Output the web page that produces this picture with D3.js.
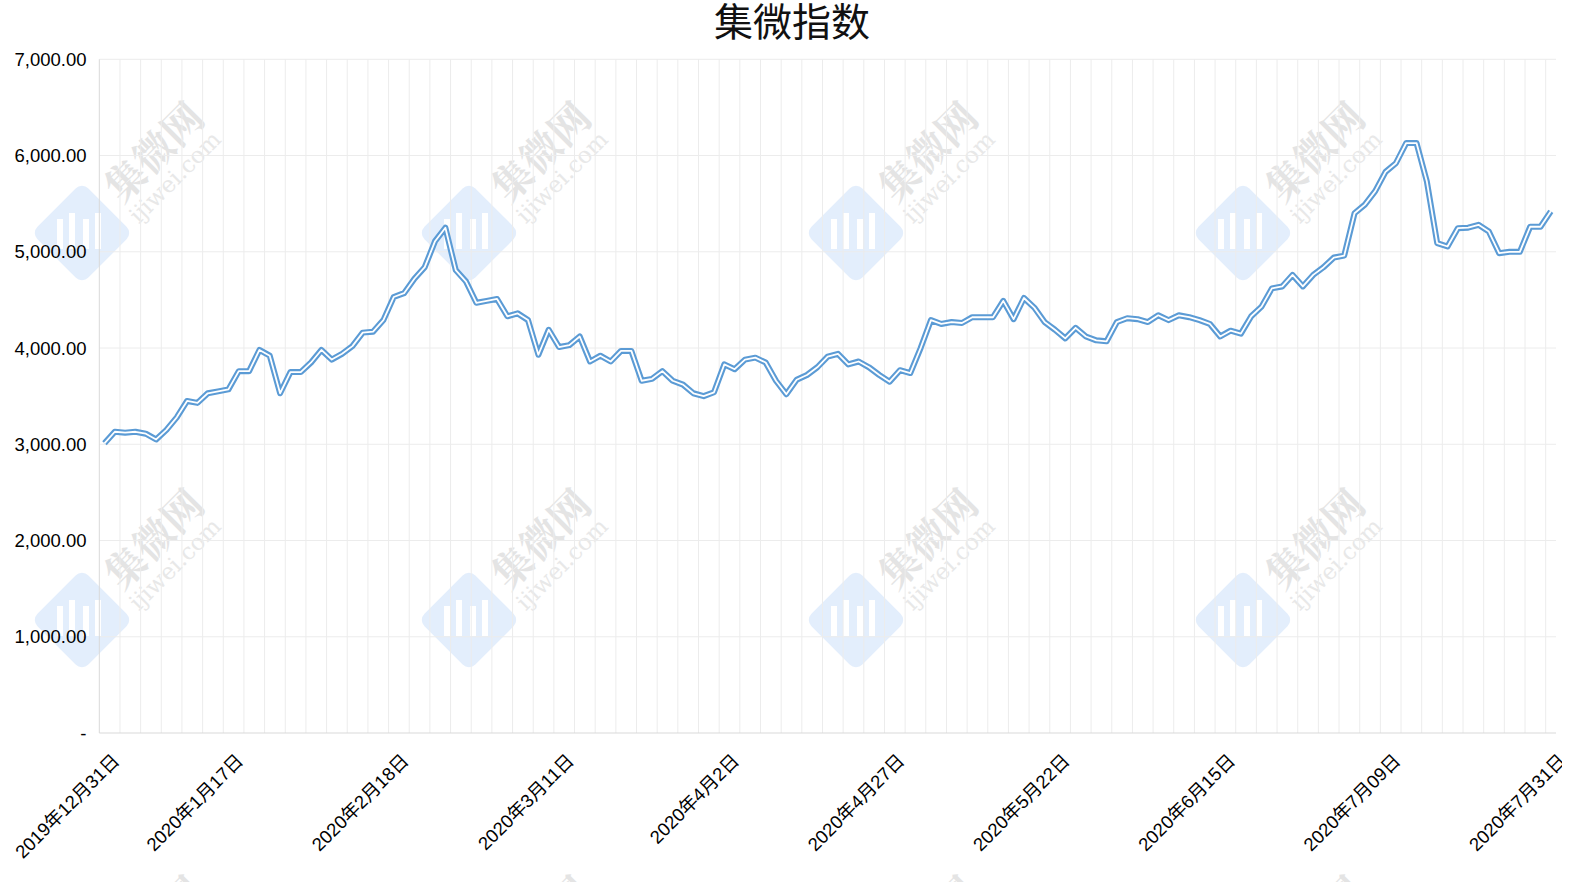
<!DOCTYPE html>
<html><head><meta charset="utf-8">
<script src="https://cdn.jsdelivr.net/npm/d3@7"></script>
<style>
html,body{margin:0;padding:0;background:#fff;}
svg{display:block;}
</style></head>
<body>
<script>
const title = "集微指数";
const dates = [
"2019-12-31",
"2020-01-02","2020-01-03","2020-01-06","2020-01-07","2020-01-08","2020-01-09","2020-01-10","2020-01-13","2020-01-14","2020-01-15","2020-01-16","2020-01-17","2020-01-20","2020-01-21","2020-01-22","2020-01-23",
"2020-02-03","2020-02-04","2020-02-05","2020-02-06","2020-02-07","2020-02-10","2020-02-11","2020-02-12","2020-02-13","2020-02-14","2020-02-17","2020-02-18","2020-02-19","2020-02-20","2020-02-21","2020-02-24","2020-02-25","2020-02-26","2020-02-27","2020-02-28",
"2020-03-02","2020-03-03","2020-03-04","2020-03-05","2020-03-06","2020-03-09","2020-03-10","2020-03-11","2020-03-12","2020-03-13","2020-03-16","2020-03-17","2020-03-18","2020-03-19","2020-03-20","2020-03-23","2020-03-24","2020-03-25","2020-03-26","2020-03-27","2020-03-30","2020-03-31",
"2020-04-01","2020-04-02","2020-04-03","2020-04-07","2020-04-08","2020-04-09","2020-04-10","2020-04-13","2020-04-14","2020-04-15","2020-04-16","2020-04-17","2020-04-20","2020-04-21","2020-04-22","2020-04-23","2020-04-24","2020-04-27","2020-04-28","2020-04-29","2020-04-30",
"2020-05-06","2020-05-07","2020-05-08","2020-05-11","2020-05-12","2020-05-13","2020-05-14","2020-05-15","2020-05-18","2020-05-19","2020-05-20","2020-05-21","2020-05-22","2020-05-25","2020-05-26","2020-05-27","2020-05-28","2020-05-29",
"2020-06-01","2020-06-02","2020-06-03","2020-06-04","2020-06-05","2020-06-08","2020-06-09","2020-06-10","2020-06-11","2020-06-12","2020-06-15","2020-06-16","2020-06-17","2020-06-18","2020-06-19","2020-06-22","2020-06-23","2020-06-24","2020-06-29","2020-06-30",
"2020-07-01","2020-07-02","2020-07-03","2020-07-06","2020-07-07","2020-07-08","2020-07-09","2020-07-10","2020-07-13","2020-07-14","2020-07-15","2020-07-16","2020-07-17","2020-07-20","2020-07-21","2020-07-22","2020-07-23","2020-07-24","2020-07-27","2020-07-28","2020-07-29","2020-07-30","2020-07-31"
];
const values = [
3010,3130,3120,3130,3110,3050,3150,3280,3450,3430,3530,3550,3570,3760,3760,3980,3920,
3530,3750,3750,3850,3980,3880,3940,4020,4160,4170,4290,4530,4570,4720,4840,5110,5250,4810,4690,4470,
4490,4510,4330,4360,4290,3930,4190,4010,4030,4120,3860,3920,3860,3970,3970,3660,3680,3760,3660,3620,3530,3500,
3540,3830,3780,3880,3900,3850,3660,3520,3670,3720,3800,3910,3940,3830,3860,3800,3720,3650,3770,3740,4000,
4290,4250,4270,4260,4320,4320,4320,4490,4300,4520,4420,4270,4190,4100,4210,4120,4080,4070,
4270,4310,4300,4270,4340,4290,4340,4320,4290,4250,4120,4180,4150,4330,4430,4620,4640,4760,4640,4760,
4840,4940,4960,5400,5490,5630,5830,5920,6130,6130,5730,5090,5055,5245,5250,5280,5210,4985,5000,5000,5260,5260,5420
];
const tickDates = ["2019-12-31","2020-01-17","2020-02-18","2020-03-11","2020-04-02","2020-04-27","2020-05-22","2020-06-15","2020-07-09","2020-07-31"];
const tickTexts = ["2019年12月31日","2020年1月17日","2020年2月18日","2020年3月11日","2020年4月2日","2020年4月27日","2020年5月22日","2020年6月15日","2020年7月09日","2020年7月31日"];
const yTicks = [0,1000,2000,3000,4000,5000,6000,7000];

(function(){
const W = 1580, H = 882;
const pL = 99.3, pR = 1556, pT = 59.3, pB = 733;
const svg = d3.select("body").append("svg").attr("width", W).attr("height", H);
const defs = svg.append("defs");
defs.append("clipPath").attr("id","pageclip").append("rect").attr("x",0).attr("y",0).attr("width",1562).attr("height",H);

const x = d3.scaleBand().domain(dates).range([pL, pR]).padding(0);
const y = d3.scaleLinear().domain([0, 7000]).range([pB, pT]);
const cx = d => x(d) + x.bandwidth()/2;

// watermarks
const wm = svg.append("g").attr("class","watermark");
const wmCols = [0,1,2,3], wmRows = [0,1,2];
const step = 387;
wmCols.forEach(c => wmRows.forEach(r => {
  const ox = 82 + c*step, oy = 233 + r*step;
  const g = wm.append("g").attr("transform", `translate(${ox},${oy}) rotate(-45)`);
  g.append("rect").attr("x",-36).attr("y",-36).attr("width",72).attr("height",72).attr("rx",9).attr("fill","#e3eefc");
  const g2 = wm.append("g").attr("transform", `translate(${ox},${oy})`);
  [[-22,-14,6,30],[-10,-20,6,36],[4,-14,6,30],[16,-20,6,36]].forEach(b => {
    g2.append("rect").attr("x", b[0]-3).attr("y", b[1]).attr("width", b[2]).attr("height", b[3]).attr("fill","#fff");
  });
  const t = wm.append("g").attr("transform", `translate(${ox+70},${oy-83}) rotate(-45)`);
  t.append("text").attr("x",0).attr("y",0).attr("text-anchor","middle").attr("dominant-baseline","central")
    .attr("font-family","'Noto Serif CJK SC','Noto Sans CJK SC',serif").attr("font-weight","bold")
    .attr("font-size",40).attr("fill","#e4e4e4").text("集微网");
  const t2 = wm.append("g").attr("transform", `translate(${ox+93},${oy-56}) rotate(-45)`);
  t2.append("text").attr("x",0).attr("y",0).attr("text-anchor","middle").attr("dominant-baseline","central")
    .attr("font-family","'DejaVu Serif','Liberation Serif',serif")
    .attr("font-size",23).attr("fill","#e8e8e8").text("ijiwei.com");
}));

// gridlines
const grid = svg.append("g");
yTicks.filter(v => v > 0).forEach(v => {
  grid.append("line").attr("x1",pL).attr("x2",pR).attr("y1",y(v)).attr("y2",y(v))
    .attr("stroke","#ececec").attr("stroke-width",1);
});
dates.forEach((d,i) => {
  if (i % 2 === 0 && i > 0) {
    grid.append("line").attr("x1",x(d)).attr("x2",x(d)).attr("y1",pT).attr("y2",pB)
      .attr("stroke","#ececec").attr("stroke-width",1);
  }
});
grid.append("line").attr("x1",pL).attr("x2",pL).attr("y1",pT).attr("y2",pB).attr("stroke","#d9d9d9");
grid.append("line").attr("x1",pL).attr("x2",pR).attr("y1",pB).attr("y2",pB).attr("stroke","#d9d9d9");

// y labels
const fmt = d3.format(",.2f");
svg.append("g").selectAll("text").data(yTicks).join("text")
  .attr("x", 86.5).attr("y", d => y(d)).attr("dy","0.36em")
  .attr("text-anchor","end")
  .attr("font-family","'Liberation Sans',Arial,sans-serif").attr("font-size",18.5).attr("fill","#000")
  .text(d => d === 0 ? "-" : fmt(d));

// x labels
const xl = svg.append("g").attr("clip-path","url(#pageclip)");
tickDates.forEach((d,k) => {
  xl.append("text")
    .attr("transform", `translate(${cx(d)+16},762) rotate(-45)`)
    .attr("text-anchor","end")
    .attr("font-family","'Liberation Sans','Noto Sans CJK SC',sans-serif").attr("font-size",18.5).attr("fill","#000")
    .text(tickTexts[k]);
});

// line (double-stroke style)
const line = d3.line().x((v,i) => cx(dates[i])).y(v => y(v));
svg.append("path").attr("d", line(values)).attr("fill","none")
  .attr("stroke","#5b9bd5").attr("stroke-width",6).attr("stroke-linejoin","round");
svg.append("path").attr("d", line(values)).attr("fill","none")
  .attr("stroke","#fff").attr("stroke-width",1.8).attr("stroke-linejoin","round");

// title
svg.append("text").attr("x",792).attr("y",22).attr("dy","0.36em").attr("text-anchor","middle")
  .attr("font-family","'Noto Sans CJK SC',sans-serif").attr("font-size",39).attr("fill","#111")
  .text(title);
})();
</script>
</body></html>
